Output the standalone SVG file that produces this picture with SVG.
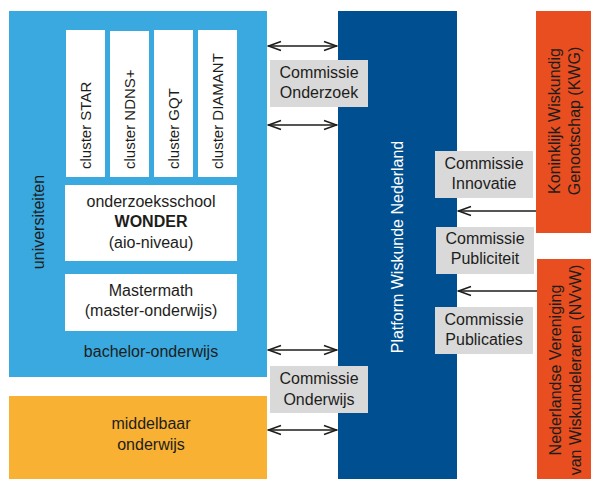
<svg xmlns="http://www.w3.org/2000/svg" width="591" height="479" viewBox="0 0 591 479">
<style>
text{font-family:"Liberation Sans",Arial,sans-serif;font-size:16px;fill:#1d1d1b;text-anchor:middle}
.cl{font-size:15px;text-anchor:start}
.w{fill:#ffffff}
.box{fill:#ffffff}
.gray{fill:#d9d9d9}
.con{stroke:#1d1d1b;stroke-width:1.5;fill:none}
</style>
<defs>
<marker id="ah" viewBox="-15 -6 16 12" markerWidth="16" markerHeight="12" refX="0" refY="0" orient="auto-start-reverse" markerUnits="userSpaceOnUse">
<path d="M-13,-4.5 L-0.5,0 L-13,4.5" fill="none" stroke="#1d1d1b" stroke-width="1.5"/>
</marker>
</defs>
<g id="universiteiten">
<rect x="9" y="11" width="258" height="366" fill="#39a9e0"/>
<text transform="translate(44,222) rotate(-90)">universiteiten</text>
<text x="151" y="357">bachelor-onderwijs</text>
</g>
<g id="cluster-star">
<rect class="box" x="66" y="30" width="39" height="147"/>
<text class="cl" transform="translate(90.5,169) rotate(-90)">cluster STAR</text>
</g>
<g id="cluster-ndns">
<rect class="box" x="110" y="31" width="39" height="146"/>
<text class="cl" transform="translate(134.5,169) rotate(-90)">cluster NDNS+</text>
</g>
<g id="cluster-gqt">
<rect class="box" x="154" y="30" width="39" height="147"/>
<text class="cl" transform="translate(178.5,169) rotate(-90)">cluster GQT</text>
</g>
<g id="cluster-diamant">
<rect class="box" x="198" y="30" width="39" height="147"/>
<text class="cl" transform="translate(222.5,169) rotate(-90)">cluster DIAMANT</text>
</g>
<g id="wonder">
<rect class="box" x="65" y="185" width="172" height="76"/>
<text x="151" y="207">onderzoeksschool</text>
<text x="151" y="227" font-weight="bold">WONDER</text>
<text x="151" y="248">(aio-niveau)</text>
</g>
<g id="mastermath">
<rect class="box" x="65" y="274" width="172" height="57"/>
<text x="151" y="296">Mastermath</text>
<text x="151" y="316">(master-onderwijs)</text>
</g>
<g id="middelbaar">
<rect x="9" y="396" width="258" height="83" fill="#f8b133"/>
<text x="151" y="429">middelbaar</text>
<text x="151" y="449.5">onderwijs</text>
</g>
<g id="platform">
<rect x="338" y="11" width="119" height="468" fill="#004f91"/>
<text class="w" transform="translate(403,247) rotate(-90)">Platform Wiskunde Nederland</text>
</g>
<g id="kwg">
<rect x="536" y="11" width="55" height="222" fill="#e84e1f"/>
<text transform="translate(560,121) rotate(-90)">Koninklijk Wiskundig</text>
<text transform="translate(580,121) rotate(-90)">Genootschap (KWG)</text>
</g>
<g id="nvvw">
<rect x="537" y="259" width="54" height="220" fill="#e84e1f"/>
<text transform="translate(561,370) rotate(-90)">Nederlandse Vereniging</text>
<text transform="translate(581,370) rotate(-90)">van Wiskundeleraren (NVvW)</text>
</g>
<g id="connectors">
<line class="con" x1="268" y1="46" x2="337" y2="46" marker-start="url(#ah)" marker-end="url(#ah)"/>
<line class="con" x1="268" y1="125" x2="337" y2="125" marker-start="url(#ah)" marker-end="url(#ah)"/>
<line class="con" x1="268" y1="350" x2="337" y2="350" marker-start="url(#ah)" marker-end="url(#ah)"/>
<line class="con" x1="268" y1="430" x2="337" y2="430" marker-start="url(#ah)" marker-end="url(#ah)"/>
<line class="con" x1="536" y1="211" x2="458" y2="211" marker-end="url(#ah)"/>
<line class="con" x1="537" y1="291" x2="458" y2="291" marker-end="url(#ah)"/>
</g>
<g id="commissie-onderzoek">
<rect class="gray" x="270" y="60" width="98" height="47"/>
<text x="319" y="77.5">Commissie</text>
<text x="319" y="97.5">Onderzoek</text>
</g>
<g id="commissie-onderwijs">
<rect class="gray" x="270" y="366" width="98" height="47"/>
<text x="319" y="384">Commissie</text>
<text x="319" y="405">Onderwijs</text>
</g>
<g id="commissie-innovatie">
<rect class="gray" x="435" y="151" width="98" height="47"/>
<text x="484" y="169">Commissie</text>
<text x="484" y="189">Innovatie</text>
</g>
<g id="commissie-publiciteit">
<rect class="gray" x="436" y="227" width="98" height="47"/>
<text x="485" y="244">Commissie</text>
<text x="485" y="264">Publiciteit</text>
</g>
<g id="commissie-publicaties">
<rect class="gray" x="435" y="307" width="98" height="47"/>
<text x="484" y="325">Commissie</text>
<text x="484" y="345">Publicaties</text>
</g>
</svg>
